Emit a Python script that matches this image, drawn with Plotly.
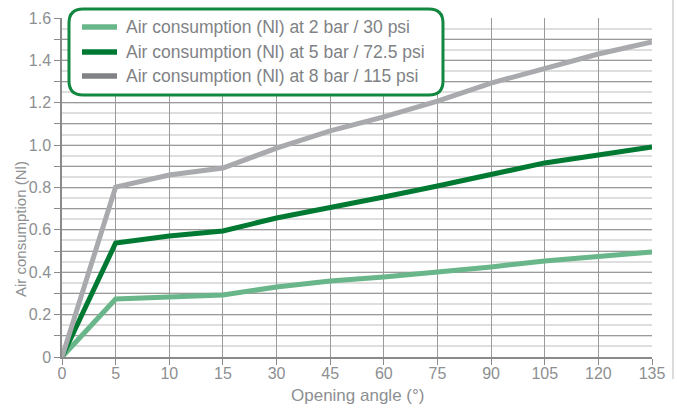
import plotly.graph_objects as go

# Opening angles (degrees), evenly spaced as categories
angles = ["0", "5", "10", "15", "30", "45", "60", "75", "90", "105", "120", "135"]

# Air consumption (Nl) per supply pressure
air_2bar = [0, 0.274, 0.283, 0.293, 0.330, 0.359, 0.378, 0.401, 0.425, 0.453, 0.472, 0.496]
air_5bar = [0, 0.538, 0.571, 0.595, 0.656, 0.703, 0.755, 0.807, 0.864, 0.916, 0.953, 0.991]
air_8bar = [0, 0.802, 0.859, 0.892, 0.986, 1.067, 1.133, 1.208, 1.293, 1.364, 1.430, 1.487]

series_names = [
    "Air consumption (Nl) at 2 bar / 30 psi",
    "Air consumption (Nl) at 5 bar / 72.5 psi",
    "Air consumption (Nl) at 8 bar / 115 psi",
]

y_tick_values = [round(i * 0.1, 1) for i in range(17)]
y_tick_text = ["0" if v == 0 else (f"{v:.1f}" if round(v * 10) % 2 == 0 else "") for v in y_tick_values]

FONT = "Liberation Sans, Arial, sans-serif"
TEXT_GREY = "#8d8f91"
LINE_COLORS = ["#68b689", "#007a33", "#a9aaad"]
LEGEND_COLORS = ["#68b689", "#007a33", "#808285"]

W, H = 677, 408
M = dict(l=62, r=25, t=18, b=51)
PW, PH = W - M["l"] - M["r"], H - M["t"] - M["b"]


def px_to_paper(x, y):
    return (x - M["l"]) / PW, (H - M["b"] - y) / PH


fig = go.Figure()

for values, name, color in zip([air_2bar, air_5bar, air_8bar], series_names, LINE_COLORS):
    fig.add_trace(go.Scatter(
        x=angles, y=values, mode="lines", name=name, showlegend=False,
        line=dict(color=color, width=5), hoverinfo="x+y",
    ))

# rounded legend frame
x0, y0, x1, y1, r = 69, 9, 443, 95, 14


def P(x, y):
    px, py = px_to_paper(x, y)
    return f"{px:.5f},{py:.5f}"


path = (
    f"M {P(x0 + r, y0)} L {P(x1 - r, y0)} Q {P(x1, y0)} {P(x1, y0 + r)} "
    f"L {P(x1, y1 - r)} Q {P(x1, y1)} {P(x1 - r, y1)} "
    f"L {P(x0 + r, y1)} Q {P(x0, y1)} {P(x0, y1 - r)} "
    f"L {P(x0, y0 + r)} Q {P(x0, y0)} {P(x0 + r, y0)} Z"
)
fig.add_shape(type="path", path=path, xref="paper", yref="paper",
              line=dict(color="#12873f", width=3), fillcolor="white", layer="above")

# legend rows: line sample + label
row_y = [27, 52, 76]
for ry, name, color in zip(row_y, series_names, LEGEND_COLORS):
    sx0, sy = px_to_paper(82, ry)
    sx1, _ = px_to_paper(117, ry)
    fig.add_shape(type="line", xref="paper", yref="paper", x0=sx0, x1=sx1, y0=sy, y1=sy,
                  line=dict(color=color, width=5.5), layer="above")
    tx, ty = px_to_paper(124, ry)
    fig.add_annotation(x=tx, y=ty, xref="paper", yref="paper", text=name, showarrow=False,
                       xanchor="left", yanchor="middle",
                       font=dict(family=FONT, size=17.5, color="#808285"))

# y-axis title
tx, ty = px_to_paper(20, 229)
fig.add_annotation(x=tx, y=ty, xref="paper", yref="paper", text="Air consumption (Nl)",
                   showarrow=False, textangle=-90, xanchor="center", yanchor="middle",
                   font=dict(family=FONT, size=15, color=TEXT_GREY))

# x-axis title
tx, ty = px_to_paper(357, 395)
fig.add_annotation(x=tx, y=ty, xref="paper", yref="paper", text="Opening angle (°)",
                   showarrow=False, xanchor="center", yanchor="middle",
                   font=dict(family=FONT, size=17, color=TEXT_GREY))

# thin separator line at the right edge
ex, ey0 = px_to_paper(673, 0)
_, ey1 = px_to_paper(673, 379)
fig.add_shape(type="line", xref="paper", yref="paper", x0=ex, x1=ex, y0=ey0, y1=ey1,
              line=dict(color="#dcdcdc", width=2), layer="below")

fig.update_layout(
    width=W, height=H, margin=M,
    paper_bgcolor="white", plot_bgcolor="white",
    font=dict(family=FONT, color=TEXT_GREY, size=15),
    showlegend=False,
    xaxis=dict(
        type="category", range=[0, len(angles) - 1], automargin=False,
        showgrid=True, gridcolor="#9a9a9a", gridwidth=1,
        showline=True, linecolor="#8a8a8a", linewidth=1.5,
        ticks="outside", ticklen=6, tickcolor="#8a8a8a",
        tickfont=dict(size=16, color=TEXT_GREY), ticklabelstandoff=-5,
        zeroline=False, fixedrange=True,
    ),
    yaxis=dict(
        range=[0, 1.6], automargin=False,
        tickmode="array", tickvals=y_tick_values, ticktext=y_tick_text,
        showgrid=True, gridcolor="#9a9a9a", gridwidth=1,
        minor=dict(dtick=0.05, showgrid=True, gridcolor="#dedede", gridwidth=1.5),
        showline=True, linecolor="#8a8a8a", linewidth=1.5,
        ticks="outside", ticklen=6, tickcolor="#8a8a8a",
        tickfont=dict(size=16, color=TEXT_GREY),
        zeroline=False, fixedrange=True,
    ),
)

fig.write_html("out.html")
